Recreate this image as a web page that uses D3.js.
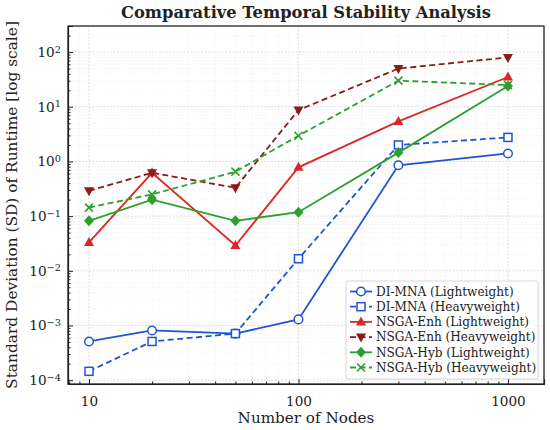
<!DOCTYPE html>
<html>
<head>
<meta charset="utf-8">
<script src="https://cdn.jsdelivr.net/npm/d3@7"></script>
<style>
  body { margin: 0; background: #fff; }
  text { font-family: "DejaVu Serif", serif; fill: #222; }
</style>
</head>
<body>
<div id="the_chart"></div>
<script>
// data
var nodes = [10, 20, 50, 100, 300, 1000];
var diLight = [5.1e-4, 8.1e-4, 7.1e-4, 1.29e-3, 0.85, 1.4];
var diHeavy = [1.45e-4, 5.1e-4, 7.1e-4, 0.0166, 2.0, 2.75];
var enhLight = [0.033, 0.62, 0.029, 0.78, 5.4, 35];
var enhHeavy = [0.29, 0.62, 0.33, 8.7, 50, 80];
var hybLight = [0.082, 0.2, 0.082, 0.118, 1.45, 24];
var hybHeavy = [0.143, 0.25, 0.65, 2.95, 30, 25];
var yTicks = [1e-4, 1e-3, 1e-2, 1e-1, 1, 10, 100];
var xTicks = [10, 100, 1000];

var series = [
  {name: "DI-MNA (Lightweight)", values: diLight, color: "#1f56cf", dash: null, marker: "circle"},
  {name: "DI-MNA (Heavyweight)", values: diHeavy, color: "#1f56cf", dash: "6,3.5", marker: "square"},
  {name: "NSGA-Enh (Lightweight)", values: enhLight, color: "#dc2727", dash: null, marker: "up"},
  {name: "NSGA-Enh (Heavyweight)", values: enhHeavy, color: "#8b1a1a", dash: "6,3.5", marker: "down"},
  {name: "NSGA-Hyb (Lightweight)", values: hybLight, color: "#2ca02c", dash: null, marker: "diamond"},
  {name: "NSGA-Hyb (Heavyweight)", values: hybHeavy, color: "#2ca02c", dash: "6,3.5", marker: "x"}
];

gen_vis();

function gen_vis() {
  var w = 550, h = 430;
  var pl = 68, pr = 544, pt = 26, pb = 384;

  var svg = d3.select("#the_chart").append("svg")
    .attr("width", w).attr("height", h);

  var xscale = d3.scaleLog().domain([7.94, 1486]).range([pl, pr]);
  var yscale = d3.scaleLog().domain([8.5e-5, 300]).range([pb, pt]);

  // minor tick values
  var xMinor = [], yMinor = [];
  for (var e = 0; e <= 3; e++) for (var m = 2; m <= 9; m++) {
    var v = m * Math.pow(10, e);
    if (v > 7.94 && v < 1486) xMinor.push(v);
  }
  for (var e2 = -5; e2 <= 2; e2++) for (var m2 = 2; m2 <= 9; m2++) {
    var v2 = m2 * Math.pow(10, e2);
    if (v2 > 8.5e-5 && v2 < 300) yMinor.push(v2);
  }

  // grid
  var grid = svg.append("g");
  grid.selectAll(".xmin").data(xMinor).enter().append("line")
    .attr("x1", d => xscale(d)).attr("x2", d => xscale(d))
    .attr("y1", pt).attr("y2", pb)
    .attr("stroke", "#eee").attr("stroke-width", 0.6).attr("stroke-dasharray", "1.5,1.5");
  grid.selectAll(".ymin").data(yMinor).enter().append("line")
    .attr("y1", d => yscale(d)).attr("y2", d => yscale(d))
    .attr("x1", pl).attr("x2", pr)
    .attr("stroke", "#eee").attr("stroke-width", 0.6).attr("stroke-dasharray", "1.5,1.5");
  grid.selectAll(".xmaj").data(xTicks).enter().append("line")
    .attr("x1", d => xscale(d)).attr("x2", d => xscale(d))
    .attr("y1", pt).attr("y2", pb)
    .attr("stroke", "#d4d4d4").attr("stroke-width", 0.8).attr("stroke-dasharray", "2,1.5");
  grid.selectAll(".ymaj").data(yTicks).enter().append("line")
    .attr("y1", d => yscale(d)).attr("y2", d => yscale(d))
    .attr("x1", pl).attr("x2", pr)
    .attr("stroke", "#d4d4d4").attr("stroke-width", 0.8).attr("stroke-dasharray", "2,1.5");

  // axes with inward ticks
  var xaxis = d3.axisBottom(xscale).tickValues(xTicks).tickSize(-5).tickPadding(12)
    .tickFormat(d3.format("d"));
  var gx = svg.append("g").attr("transform", "translate(0," + pb + ")").call(xaxis);
  gx.selectAll("text").style("font-size", "13.6px");
  var xminAxis = d3.axisBottom(xscale).tickValues(xMinor).tickSize(-2.5).tickFormat("");
  svg.append("g").attr("transform", "translate(0," + pb + ")").call(xminAxis)
    .select(".domain").remove();

  var yaxis = d3.axisLeft(yscale).tickValues(yTicks).tickSize(-5).tickFormat("");
  var gy = svg.append("g").attr("transform", "translate(" + pl + ",0)").call(yaxis);
  gy.selectAll(".tick text").remove();
  gy.selectAll(".tick").append("text")
    .attr("x", -7).attr("dy", "0.32em").attr("text-anchor", "end")
    .style("font-size", "13.6px").attr("fill", "#222")
    .each(function (d) {
      var t = d3.select(this);
      var ex = Math.round(Math.log10(d));
      t.append("tspan").text("10");
      t.append("tspan").attr("dy", "-0.45em").style("font-size", "9.8px")
        .text(ex < 0 ? "\u2212" + (-ex) : ex);
    });
  var yminAxis = d3.axisLeft(yscale).tickValues(yMinor).tickSize(-2.5).tickFormat("");
  svg.append("g").attr("transform", "translate(" + pl + ",0)").call(yminAxis)
    .select(".domain").remove();

  svg.selectAll(".domain").attr("stroke", "#222").attr("stroke-width", 1.2);
  svg.selectAll(".tick line").attr("stroke", "#222");

  // frame
  svg.append("rect").attr("x", pl).attr("y", pt)
    .attr("width", pr - pl).attr("height", pb - pt)
    .attr("fill", "none").attr("stroke", "#222").attr("stroke-width", 1.3);

  var line = d3.line().x(d => xscale(d[0])).y(d => yscale(d[1]));

  series.forEach(function (s) {
    var pts = nodes.map((n, i) => [n, s.values[i]]);
    svg.append("path").datum(pts)
      .attr("d", line).attr("fill", "none")
      .attr("stroke", s.color).attr("stroke-width", 1.8)
      .attr("stroke-dasharray", s.dash);
    pts.forEach(function (p) {
      var g = svg.append("g").attr("transform", "translate(" + xscale(p[0]) + "," + yscale(p[1]) + ")");
      drawMarker(g, s.marker, s.color);
    });
  });

  // legend
  var lg = svg.append("g").attr("transform", "translate(346,281)");
  lg.append("rect").attr("width", 192).attr("height", 98).attr("rx", 2)
    .attr("fill", "#fff").attr("fill-opacity", 0.85)
    .attr("stroke", "#ccc").attr("stroke-width", 0.8);
  series.forEach(function (s, i) {
    var yy = 10.5 + i * 15.2;
    lg.append("line").attr("x1", 4).attr("x2", 26).attr("y1", yy).attr("y2", yy)
      .attr("stroke", s.color).attr("stroke-width", 1.8).attr("stroke-dasharray", s.dash);
    drawMarker(lg.append("g").attr("transform", "translate(15," + yy + ")"), s.marker, s.color);
    lg.append("text").attr("x", 30).attr("y", yy).attr("dy", "0.35em")
      .style("font-size", "12.1px").text(s.name);
  });

  // titles
  svg.append("text").attr("x", (pl + pr) / 2).attr("y", 18)
    .attr("text-anchor", "middle").style("font-size", "16.3px").style("font-weight", "bold")
    .text("Comparative Temporal Stability Analysis");
  svg.append("text").attr("x", (pl + pr) / 2).attr("y", 423)
    .attr("text-anchor", "middle").style("font-size", "15.2px")
    .text("Number of Nodes");
  svg.append("text")
    .attr("transform", "translate(17," + ((pt + pb) / 2) + ") rotate(-90)")
    .attr("text-anchor", "middle").style("font-size", "15.4px")
    .text("Standard Deviation (SD) of Runtime [log scale]");
}

// marker drawing
function drawMarker(g, type, color) {
  if (type === "circle") {
    g.append("circle").attr("r", 4.3).attr("fill", "#fff")
      .attr("stroke", color).attr("stroke-width", 1.5);
  } else if (type === "square") {
    g.append("rect").attr("x", -4).attr("y", -4).attr("width", 8).attr("height", 8)
      .attr("fill", "#fff").attr("stroke", color).attr("stroke-width", 1.5);
  } else if (type === "up") {
    g.append("path").attr("d", "M0,-5.5L5,3.5L-5,3.5Z").attr("fill", color);
  } else if (type === "down") {
    g.append("path").attr("d", "M0,5.5L5,-3.5L-5,-3.5Z").attr("fill", color);
  } else if (type === "diamond") {
    g.append("path").attr("d", "M0,-5.5L5,0L0,5.5L-5,0Z").attr("fill", color);
  } else if (type === "x") {
    g.append("path").attr("d", "M-4,-4L4,4M-4,4L4,-4")
      .attr("stroke", color).attr("stroke-width", 1.6).attr("fill", "none");
  }
}
</script>
</body>
</html>
